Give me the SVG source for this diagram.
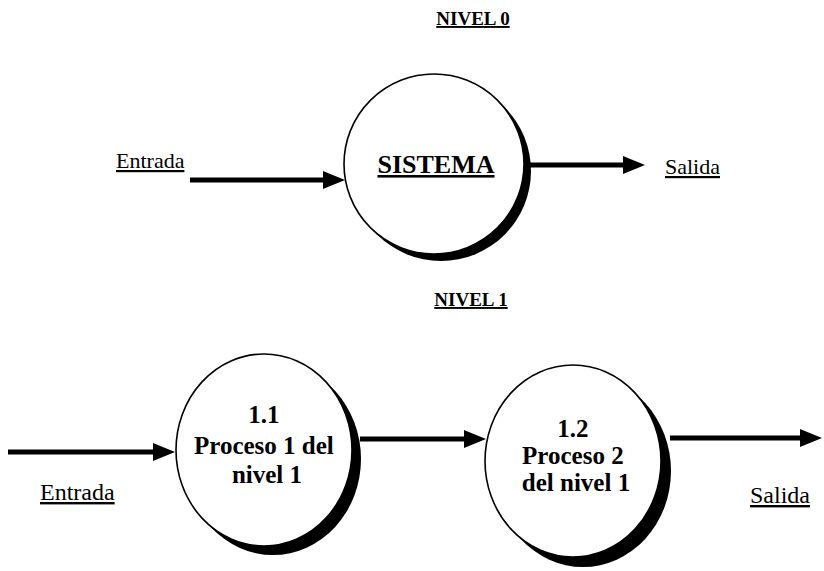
<svg xmlns="http://www.w3.org/2000/svg" width="824" height="571" viewBox="0 0 824 571">
  <style>
    .lbl { font-family: "Liberation Serif", "Times New Roman", serif; fill: #000; }
    .title { font-weight: bold; font-size: 19px; text-decoration: underline; }
    .flow { font-size: 22px; text-decoration: underline; }
    .proc { font-weight: bold; font-size: 25px; }
    .ring { fill: #fff; stroke: #000; stroke-width: 1.6; }
    .shadow { fill: #000; }
    .conn { stroke: #000; stroke-width: 5; fill: none; }
  </style>
  <defs>
    <marker id="head" markerUnits="userSpaceOnUse" markerWidth="22" markerHeight="18" refX="12" refY="9" orient="auto">
      <path d="M0,0 L22,9 L0,18 Z" fill="#000"/>
    </marker>
  </defs>

  <rect width="824" height="571" fill="#fff"/>

  <!-- level titles -->
  <text class="lbl title" x="473" y="25" text-anchor="middle">NIVEL 0</text>
  <text class="lbl title" x="471" y="306" text-anchor="middle">NIVEL 1</text>

  <!-- data-flow labels -->
  <text class="lbl flow" x="116" y="168">Entrada</text>
  <text class="lbl flow" x="665" y="174">Salida</text>
  <text class="lbl flow" x="40" y="500" style="font-size:24px">Entrada</text>
  <text class="lbl flow" x="750" y="503" style="font-size:24px">Salida</text>

  <!-- connectors -->
  <g id="connectors">
    <line class="conn" x1="190" y1="180" x2="335" y2="180" marker-end="url(#head)"/>
    <line class="conn" x1="528" y1="165" x2="635" y2="165" marker-end="url(#head)"/>
    <line class="conn" x1="8" y1="452" x2="165" y2="452" marker-end="url(#head)"/>
    <line class="conn" x1="360" y1="439" x2="476" y2="439" marker-end="url(#head)"/>
    <line class="conn" x1="670" y1="438" x2="812" y2="438" marker-end="url(#head)"/>
  </g>

  <!-- level 0 process -->
  <g id="sistema">
    <circle class="shadow" cx="441" cy="171" r="90"/>
    <circle class="ring" cx="434" cy="164" r="90"/>
    <text class="lbl" x="436" y="173" text-anchor="middle" style="font-weight:bold;font-size:26px;text-decoration:underline">SISTEMA</text>
  </g>

  <!-- level 1 processes -->
  <g id="proceso-1-1">
    <ellipse class="shadow" cx="273" cy="459" rx="88" ry="96"/>
    <ellipse class="ring" cx="264" cy="450" rx="88" ry="96"/>
    <text class="lbl proc" text-anchor="middle">
      <tspan x="267" y="423">1.1</tspan>
      <tspan x="267" y="454">Proceso 1 del</tspan>
      <tspan x="267" y="483">nivel 1</tspan>
    </text>
  </g>

  <g id="proceso-1-2">
    <ellipse class="shadow" cx="583" cy="471" rx="88" ry="96"/>
    <ellipse class="ring" cx="573" cy="461" rx="88" ry="96"/>
    <text class="lbl proc" text-anchor="middle">
      <tspan x="576" y="437">1.2</tspan>
      <tspan x="576" y="464">Proceso 2</tspan>
      <tspan x="576" y="491">del nivel 1</tspan>
    </text>
  </g>
</svg>
